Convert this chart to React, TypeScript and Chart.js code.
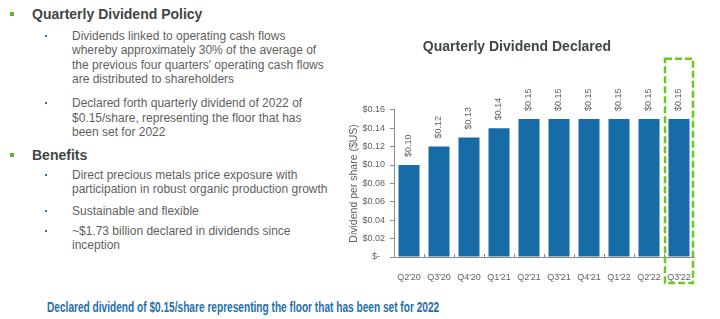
import React, { useEffect, useRef } from 'react';
import { Chart, registerables } from 'chart.js';

Chart.register(...registerables);

// ---- data ----
const categories = ["Q2'20", "Q3'20", "Q4'20", "Q1'21", "Q2'21", "Q3'21", "Q4'21", "Q1'22", "Q2'22", "Q3'22"];
const dividends = [0.10, 0.12, 0.13, 0.14, 0.15, 0.15, 0.15, 0.15, 0.15, 0.15];
const valueLabels = ['$0.10', '$0.12', '$0.13', '$0.14', '$0.15', '$0.15', '$0.15', '$0.15', '$0.15', '$0.15'];
const yTickValues = [0, 0.02, 0.04, 0.06, 0.08, 0.10, 0.12, 0.14, 0.16];
const yTickLabels = ['$-  ', '$0.02', '$0.04', '$0.06', '$0.08', '$0.10', '$0.12', '$0.14', '$0.16'];
const highlightIndex = 9;

const chartTitle = 'Quarterly Dividend Declared';
const yAxisTitle = 'Dividend per share ($US)';

const BAR_COLOR = '#176ca8';
const TEXT_GRAY = '#5f5f5f';
const AXIS_GRAY = '#8a8a8a';
const GREEN = '#6dc81c';
const FONT = '"Liberation Sans", Arial, sans-serif';

const valueLabelPlugin = {
  id: 'valueLabels',
  afterDatasetsDraw(chart: any) {
    const ctx = chart.ctx;
    const meta = chart.getDatasetMeta(0);
    ctx.save();
    ctx.fillStyle = TEXT_GRAY;
    ctx.font = `9px ${FONT}`;
    ctx.textAlign = 'left';
    ctx.textBaseline = 'middle';
    meta.data.forEach((el: any, i: number) => {
      ctx.save();
      ctx.translate(el.x, el.y - 8);
      ctx.rotate(-Math.PI / 2);
      ctx.fillText(valueLabels[i], 0, 0);
      ctx.restore();
    });
    ctx.restore();
  },
};

const axisDecorPlugin = {
  id: 'axisDecor',
  afterDraw(chart: any) {
    const ctx = chart.ctx;
    const xs = chart.scales.x;
    const area = chart.chartArea;
    ctx.save();
    // small inward ticks between categories on the x axis
    ctx.strokeStyle = AXIS_GRAY;
    ctx.lineWidth = 1;
    for (let i = 1; i < categories.length; i++) {
      const px = Math.round((xs.getPixelForValue(i - 1) + xs.getPixelForValue(i)) / 2) + 0.5;
      ctx.beginPath();
      ctx.moveTo(px, area.bottom);
      ctx.lineTo(px, area.bottom - 3);
      ctx.stroke();
    }
    // dashed highlight box around the latest quarter
    const cx = xs.getPixelForValue(highlightIndex);
    const half = xs.width / categories.length / 2 - 1;
    ctx.strokeStyle = GREEN;
    ctx.lineWidth = 2.5;
    ctx.setLineDash([7, 3]);
    ctx.strokeRect(cx - half, area.top - 51, half * 2, area.bottom - area.top + 77);
    ctx.restore();
  },
};

function DividendChart() {
  const ref = useRef<HTMLCanvasElement>(null);
  useEffect(() => {
    if (!ref.current) return;
    const chart = new Chart(ref.current, {
      type: 'bar',
      data: {
        labels: categories,
        datasets: [
          {
            data: dividends,
            backgroundColor: BAR_COLOR,
            borderWidth: 0,
            barPercentage: 0.7,
            categoryPercentage: 1,
          },
        ],
      },
      options: {
        animation: false,
        responsive: false,
        maintainAspectRatio: false,
        layout: { padding: { top: 0, right: 26, bottom: 0, left: 0 } },
        plugins: {
          legend: { display: false },
          tooltip: { enabled: false },
          title: {
            display: true,
            text: chartTitle,
            color: '#3f4646',
            font: { family: FONT, size: 14, weight: 'bold' },
            padding: { top: 9, bottom: 54 },
          },
        },
        scales: {
          x: {
            grid: { display: false },
            border: { display: true, color: AXIS_GRAY },
            ticks: {
              color: TEXT_GRAY,
              font: { family: FONT, size: 9 },
              padding: 7,
              maxRotation: 0,
              autoSkip: false,
            },
            afterFit(scale: any) {
              scale.height = 30;
            },
          },
          y: {
            min: 0,
            max: 0.16,
            grid: { drawOnChartArea: false, drawTicks: true, tickLength: 4, color: AXIS_GRAY },
            border: { display: true, color: AXIS_GRAY },
            afterBuildTicks(scale: any) {
              scale.ticks = yTickValues.map((v) => ({ value: v }));
            },
            ticks: {
              color: TEXT_GRAY,
              font: { family: FONT, size: 9 },
              padding: 5,
              callback: (_v: any, i: number) => yTickLabels[i],
            },
            title: {
              display: true,
              text: yAxisTitle,
              color: TEXT_GRAY,
              font: { family: FONT, size: 10.5 },
              padding: { top: 8, bottom: 0 },
            },
            afterFit(scale: any) {
              scale.width = 54;
            },
          },
        },
      },
      plugins: [valueLabelPlugin, axisDecorPlugin],
    } as any);
    return () => chart.destroy();
  }, []);
  return <canvas ref={ref} width={380} height={257} style={{ position: 'absolute', left: 340, top: 30, width: 380, height: 257 }} />;
}

const bodyStyle: React.CSSProperties = {
  position: 'absolute',
  left: 72,
  fontFamily: FONT,
  fontSize: 12,
  lineHeight: '14.6px',
  color: TEXT_GRAY,
  whiteSpace: 'nowrap',
};

function Bullet({ top, lines }: { top: number; lines: string[] }) {
  return (
    <>
      <div style={{ position: 'absolute', left: 45, top: Math.round(top + 6), width: 2, height: 2, background: '#2a72b0' }} />
      <div style={{ ...bodyStyle, top }}>
        {lines.map((l, i) => (
          <div key={i}>{l}</div>
        ))}
      </div>
    </>
  );
}

function Heading({ top, text }: { top: number; text: string }) {
  return (
    <>
      <div style={{ position: 'absolute', left: 10, top: Math.round(top + 6), width: 4, height: 4, background: '#5cb531' }} />
      <div
        style={{
          position: 'absolute',
          left: 32,
          top,
          fontFamily: FONT,
          fontSize: 14,
          fontWeight: 'bold',
          lineHeight: '16px',
          color: '#3f4646',
          whiteSpace: 'nowrap',
        }}
      >
        {text}
      </div>
    </>
  );
}

export default function App() {
  const footRef = useRef<HTMLDivElement>(null);
  useEffect(() => {
    const el = footRef.current;
    if (!el) return;
    const w = el.scrollWidth;
    if (w > 0) el.style.transform = `scaleX(${392 / w})`;
  }, []);
  return (
    <div style={{ position: 'absolute', left: 0, top: 0, width: 720, height: 319, background: '#fff', overflow: 'hidden' }}>
      <Heading top={5.5} text="Quarterly Dividend Policy" />
      <Bullet
        top={28.7}
        lines={[
          'Dividends linked to operating cash flows',
          'whereby approximately 30% of the average of',
          "the previous four quarters' operating cash flows",
          'are distributed to shareholders',
        ]}
      />
      <Bullet
        top={96}
        lines={['Declared forth quarterly dividend of 2022 of', '$0.15/share, representing the floor that has', 'been set for 2022']}
      />
      <Heading top={147} text="Benefits" />
      <Bullet top={167.7} lines={['Direct precious metals price exposure with', 'participation in robust organic production growth']} />
      <Bullet top={203.7} lines={['Sustainable and flexible']} />
      <Bullet top={223.7} lines={['~$1.73 billion declared in dividends since', 'inception']} />
      <DividendChart />
      <div
        ref={footRef}
        style={{
          position: 'absolute',
          left: 47,
          top: 298,
          fontFamily: FONT,
          fontSize: 14,
          fontWeight: 'bold',
          lineHeight: '18px',
          color: '#1f6fad',
          whiteSpace: 'nowrap',
          transformOrigin: 'left center',
        }}
      >
        Declared dividend of $0.15/share representing the floor that has been set for 2022
      </div>
    </div>
  );
}
